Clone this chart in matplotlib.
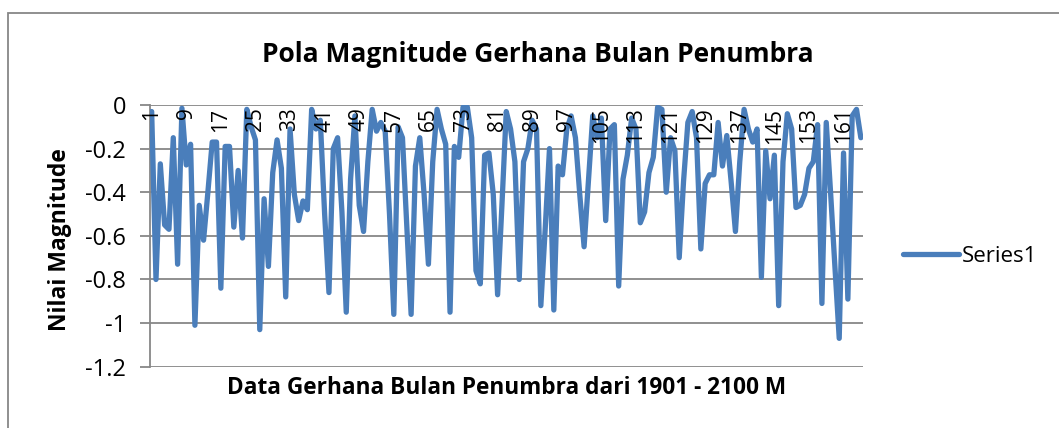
import matplotlib.pyplot as plt
from matplotlib.patches import Rectangle

# magnitude values, one per eclipse (1901 - 2100 M)
magnitude = [
    -0.03, -0.80, -0.27, -0.55, -0.57, -0.15, -0.73, -0.015, -0.275, -0.18,
    -1.01, -0.46, -0.62, -0.40, -0.17, -0.17, -0.84, -0.19, -0.19, -0.56,
    -0.30, -0.61, -0.02, -0.10, -0.16, -1.03, -0.43, -0.74, -0.31, -0.16,
    -0.29, -0.88, -0.11, -0.41, -0.53, -0.44, -0.48, -0.02, -0.11, -0.07,
    -0.50, -0.86, -0.20, -0.15, -0.49, -0.95, -0.34, -0.05, -0.46, -0.58,
    -0.26, -0.02, -0.12, -0.08, -0.12, -0.50, -0.96, -0.10, -0.15, -0.55,
    -0.96, -0.28, -0.15, -0.41, -0.73, -0.26, -0.02, -0.11, -0.18, -0.95,
    -0.19, -0.24, -0.01, -0.01, -0.15, -0.76, -0.82, -0.23, -0.22, -0.41,
    -0.87, -0.46, -0.03, -0.11, -0.26, -0.80, -0.26, -0.20, -0.07, -0.11,
    -0.92, -0.57, -0.20, -0.94, -0.28, -0.32, -0.11, -0.05, -0.15, -0.41,
    -0.65, -0.35, -0.05, -0.15, -0.06, -0.53, -0.11, -0.09, -0.83, -0.34,
    -0.23, -0.06, -0.11, -0.54, -0.49, -0.31, -0.24, -0.01, -0.02, -0.40,
    -0.15, -0.21, -0.70, -0.35, -0.08, -0.03, -0.15, -0.66, -0.36, -0.32,
    -0.32, -0.08, -0.28, -0.14, -0.35, -0.58, -0.26, -0.02, -0.11, -0.17,
    -0.11, -0.79, -0.21, -0.43, -0.23, -0.92, -0.26, -0.04, -0.11, -0.47,
    -0.46, -0.41, -0.29, -0.26, -0.09, -0.91, -0.08, -0.40, -0.74, -1.07,
    -0.22, -0.89, -0.05, -0.02, -0.15,
]
index = list(range(1, len(magnitude) + 1))
xtick_labels = index[::8]
ytick_values = [0, -0.2, -0.4, -0.6, -0.8, -1, -1.2]

plt.rcParams['font.family'] = ['Open Sans', 'DejaVu Sans']

fig = plt.figure(figsize=(10.59, 4.28), dpi=100)
W, H = 1059, 428
ax = fig.add_axes([149.5 / W, 1 - 366.7 / H, (863 - 149.5) / W, (366.7 - 105) / H])

grid_col = '#878787'
line_col = '#4A7EBB'

for v in ytick_values:
    ax.axhline(v, color=grid_col, lw=1.3, zorder=1)

ax.plot(index, magnitude, color=line_col, lw=3.8, solid_joinstyle='round',
        solid_capstyle='round', zorder=3, label='Series1')

ax.set_xlim(0.5, len(magnitude) + 0.5)
ax.set_ylim(-1.2, 0)
ax.set_xticks([])
ax.set_yticks(ytick_values)
ax.set_yticklabels(['0', '-0.2', '-0.4', '-0.6', '-0.8', '-1', '-1.2'], fontsize=17)
ax.tick_params(axis='y', length=7, width=1.3, color=grid_col, pad=10)

for s in ['top', 'right', 'bottom']:
    ax.spines[s].set_visible(False)
ax.spines['left'].set_color(grid_col)
ax.spines['left'].set_linewidth(1.3)

# category labels sit just under the axis line at y = 0, drawn over the line
for i in xtick_labels:
    ax.text(i, -0.012, str(i), rotation=90, ha='center', va='top', fontsize=15, zorder=5)

fig.text(60 / W, 1 - 240 / H, 'Nilai Magnitude', rotation=90,
         ha='center', va='center', fontsize=16.5, fontweight='bold')
fig.text(507 / W, 1 - 388 / H, 'Data Gerhana Bulan Penumbra dari 1901 - 2100 M',
         ha='center', va='center', fontsize=16.3, fontweight='bold')
fig.text(538 / W, 1 - 55 / H, 'Pola Magnitude Gerhana Bulan Penumbra',
         ha='center', va='center', fontsize=19, fontweight='bold')

fig.legend(loc='center left', bbox_to_anchor=(903 / W, 1 - 256 / H),
           frameon=False, fontsize=16, handlelength=2.5, handletextpad=0.15,
           borderaxespad=0, borderpad=0)

# chart border
fig.patches.append(Rectangle((8 / W, -0.1), 1.2, 1 - 13 / H + 0.1, transform=fig.transFigure,
                             fill=False, edgecolor='#878787', lw=1.3))

fig.savefig('out.png', dpi=100)
